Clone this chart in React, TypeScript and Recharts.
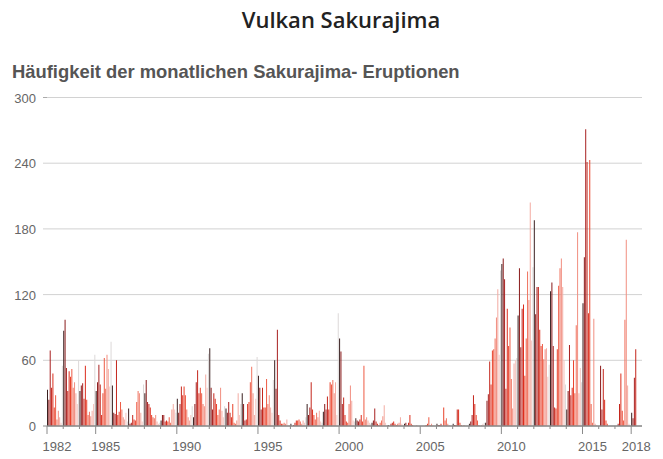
import React from 'react';
import { BarChart, Bar, XAxis, YAxis, CartesianGrid, Cell } from 'recharts';

// Monthly Sakurajima eruptions, Jan..Dec per year
const e1982 = [33, 24, 69, 35, 48, 17, 28, 6, 14, 8, 3, 55];
const e1983 = [87, 97, 53, 32, 50, 45, 52, 35, 40, 30, 20, 60];
const e1984 = [32, 37, 39, 25, 55, 24, 10, 13, 9, 14, 20, 65];
const e1985 = [32, 40, 56, 38, 10, 30, 62, 34, 65, 52, 36, 77];
const e1986 = [37, 12, 11, 60, 10, 13, 22, 15, 8, 6, 12, 4];
const e1987 = [16, 2, 3, 10, 6, 5, 22, 32, 30, 12, 4, 38];
const e1988 = [30, 42, 22, 20, 17, 10, 8, 7, 10, 4, 2, 3];
const e1989 = [5, 10, 10, 4, 5, 4, 8, 3, 15, 20, 15, 12];
const e1990 = [25, 12, 20, 36, 28, 36, 28, 15, 8, 5, 10, 18];
const e1991 = [8, 20, 40, 51, 30, 35, 30, 20, 18, 47, 35, 66];
const e1992 = [71, 35, 15, 30, 25, 20, 10, 15, 35, 14, 8, 18];
const e1993 = [16, 12, 22, 12, 8, 20, 3, 2, 5, 30, 10, 20];
const e1994 = [30, 20, 5, 6, 20, 22, 40, 54, 30, 10, 25, 63];
const e1995 = [46, 35, 15, 35, 17, 17, 43, 20, 28, 17, 12, 42];
const e1996 = [60, 34, 88, 10, 5, 2, 2, 3, 2, 6, 1, 1];
const e1997 = [2, 0, 1, 3, 5, 5, 6, 4, 2, 5, 3, 8];
const e1998 = [20, 10, 17, 40, 15, 10, 6, 12, 8, 14, 4, 3];
const e1999 = [13, 20, 15, 27, 15, 40, 38, 42, 30, 40, 10, 103];
const e2000 = [80, 68, 20, 26, 10, 4, 3, 20, 37, 23, 5, 4];
const e2001 = [7, 5, 4, 6, 10, 4, 55, 6, 8, 5, 3, 2];
const e2002 = [3, 5, 16, 4, 2, 1, 3, 5, 9, 19, 3, 1];
const e2003 = [1, 0, 2, 3, 4, 2, 1, 2, 3, 8, 2, 1];
const e2004 = [2, 3, 1, 3, 10, 2, 1, 0, 0, 1, 0, 0];
const e2005 = [0, 0, 0, 0, 1, 2, 8, 1, 2, 1, 0, 0];
const e2006 = [2, 1, 1, 2, 0, 17, 5, 7, 2, 1, 0, 0];
const e2007 = [2, 1, 1, 15, 15, 3, 1, 0, 1, 0, 0, 1];
const e2008 = [2, 4, 10, 28, 20, 10, 5, 1, 0, 1, 2, 3];
const e2009 = [3, 23, 29, 59, 38, 69, 70, 80, 99, 125, 65, 142];
const e2010 = [148, 153, 134, 34, 107, 73, 90, 43, 16, 57, 60, 62];
const e2011 = [101, 144, 72, 107, 111, 46, 80, 141, 115, 204, 78, 145];
const e2012 = [188, 102, 127, 127, 88, 73, 75, 61, 70, 71, 45, 56];
const e2013 = [123, 131, 73, 17, 16, 70, 128, 144, 153, 127, 60, 38];
const e2014 = [15, 32, 74, 28, 35, 60, 30, 92, 177, 30, 53, 40];
const e2015 = [112, 154, 271, 241, 103, 243, 20, 3, 98, 2, 1, 0];
const e2016 = [0, 55, 15, 52, 24, 5, 2, 0, 0, 0, 0, 0];
const e2017 = [0, 0, 2, 20, 48, 14, 5, 97, 170, 37, 2, 0];
const e2018 = [12, 7, 44, 70, 0, 0, 0, 0];

const years = [
  1982, 1983, 1984, 1985, 1986, 1987, 1988, 1989, 1990, 1991, 1992, 1993,
  1994, 1995, 1996, 1997, 1998, 1999, 2000, 2001, 2002, 2003, 2004, 2005,
  2006, 2007, 2008, 2009, 2010, 2011, 2012, 2013, 2014, 2015, 2016, 2017, 2018,
];
const yearSeries = [
  e1982, e1983, e1984, e1985, e1986, e1987, e1988, e1989, e1990, e1991, e1992, e1993,
  e1994, e1995, e1996, e1997, e1998, e1999, e2000, e2001, e2002, e2003, e2004, e2005,
  e2006, e2007, e2008, e2009, e2010, e2011, e2012, e2013, e2014, e2015, e2016, e2017, e2018,
];

const labeledYears = [1982, 1985, 1990, 1995, 2000, 2005, 2010, 2015, 2018];
const yTicks = [0, 60, 120, 180, 240, 300];

const monthColors = [
  '#3a2020', '#8a1a1a', '#a82020', '#c4261c', '#dc2c1c', '#e9412a',
  '#ee5a44', '#f0735f', '#f18e80', '#f3aba2', '#f5c6c0', '#dcd8d8',
];

const data = yearSeries.flatMap((arr, yi) =>
  arr.map((v, m) => ({ idx: yi * 12 + m, year: years[yi], month: m, count: v }))
);
const yearStartIdx = years.map((_, yi) => yi * 12);

const W = 663;
const H = 459;
const PLOT_LEFT = 47;
const PLOT_RIGHT = 642;

const XTick = (props: any) => {
  const { x, y, payload } = props;
  const yi = Math.round(payload.value / 12);
  const year = years[yi];
  const band = (PLOT_RIGHT - PLOT_LEFT) / data.length;
  const tx = x - band / 2;
  const labeled = labeledYears.includes(year);
  return (
    <g>
      <line x1={tx} x2={tx} y1={y} y2={y + (labeled ? 8 : 3)} stroke="#8a8a8a" strokeWidth={1} />
      {labeled && (
        <text
          x={tx + (year === 2018 ? 5 : 10)}
          y={y + 25}
          textAnchor="middle"
          fontFamily="'Liberation Sans', Arial, sans-serif"
          fontSize={13}
          fill="#666"
        >
          {year}
        </text>
      )}
    </g>
  );
};

const YTick = (props: any) => {
  const { x, y, payload } = props;
  const v = payload.value;
  return (
    <g>
      {v !== 0 && (
        <line x1={x - 4} x2={x} y1={y} y2={y} stroke={v === 300 ? '#ababab' : '#d2d2d2'} strokeWidth={1} />
      )}
      {v === 0 && <line x1={x - 4} x2={x} y1={y} y2={y} stroke="#8a8a8a" strokeWidth={1} />}
      <text
        x={x - 11}
        y={y + 5}
        textAnchor="end"
        fontFamily="'Liberation Sans', Arial, sans-serif"
        fontSize={13}
        fill="#666"
      >
        {v}
      </text>
    </g>
  );
};

export default function App() {
  return (
    <div style={{ position: 'absolute', left: 0, top: 0, width: W, height: H, background: '#fff' }}>
      <svg width={W} height={H} style={{ position: 'absolute', left: 0, top: 0 }}>
        <text
          x={341}
          y={28}
          textAnchor="middle"
          fontFamily="'Open Sans', sans-serif"
          fontWeight={600}
          fontSize={22}
          fill="#222"
        >
          Vulkan Sakurajima
        </text>
        <text
          x={12}
          y={78}
          fontFamily="'Liberation Sans', Arial, sans-serif"
          fontWeight={700}
          fontSize={18.4}
          fill="#555"
        >
          Häufigkeit der monatlichen Sakurajima- Eruptionen
        </text>
      </svg>
      <div style={{ position: 'absolute', left: 0, top: 0 }}>
        <BarChart
          width={W}
          height={H}
          data={data}
          margin={{ top: 97.5, right: W - PLOT_RIGHT, bottom: 1, left: 0 }}
          barCategoryGap={0}
          barGap={0}
        >
          <CartesianGrid vertical={false} stroke="#d2d2d2" />
          <XAxis
            dataKey="idx"
            type="category"
            ticks={yearStartIdx}
            interval={0}
            tick={<XTick />}
            tickLine={false}
            tickSize={0}
            tickMargin={0}
            height={32}
            axisLine={{ stroke: '#8a8a8a', strokeWidth: 1.5 }}
          />
          <YAxis
            domain={[0, 300]}
            ticks={yTicks}
            interval={0}
            width={PLOT_LEFT}
            tick={<YTick />}
            tickLine={false}
            tickSize={0}
            tickMargin={0}
            axisLine={false}
          />
          <Bar dataKey="count" isAnimationActive={false}>
            {data.map((d) => (
              <Cell key={d.idx} fill={monthColors[d.month]} />
            ))}
          </Bar>
        </BarChart>
      </div>
    </div>
  );
}
